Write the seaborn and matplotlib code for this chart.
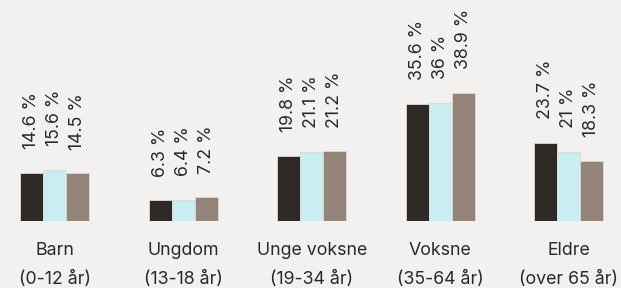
import pandas as pd
import matplotlib
matplotlib.use('agg')
import matplotlib.pyplot as plt
import seaborn as sns

# data
categories = ["Barn\n(0-12 år)", "Ungdom\n(13-18 år)", "Unge voksne\n(19-34 år)",
              "Voksne\n(35-64 år)", "Eldre\n(over 65 år)"]
series = ["Serie 1", "Serie 2", "Serie 3"]
serie_1 = [14.6, 6.3, 19.8, 35.6, 23.7]
serie_2 = [15.6, 6.4, 21.1, 36, 21]
serie_3 = [14.5, 7.2, 21.2, 38.9, 18.3]

colors = ["#2d2926", "#c9edf1", "#958479"]
bg = "#f2f1ef"
text_color = "#2d2926"

rows = []
for name, vals in zip(series, [serie_1, serie_2, serie_3]):
    for cat, v in zip(categories, vals):
        rows.append({"gruppe": cat, "serie": name, "andel": v})
df = pd.DataFrame(rows)

sns.set_style("white")
plt.rcParams['font.family'] = ['Inter', 'DejaVu Sans']

fig = plt.figure(figsize=(6.21, 2.88), dpi=100, facecolor=bg)
ax = fig.add_axes([0, 67 / 288, 1, 221 / 288])
ax.set_facecolor(bg)

sns.barplot(data=df, x="gruppe", y="andel", hue="serie", palette=colors,
            width=0.537, saturation=1, legend=False, ax=ax,
            edgecolor="#ddd9d5", linewidth=0.6)

for cont in ax.containers:
    labels = [f"{v:g} %" for v in cont.datavalues]
    ax.bar_label(cont, labels=labels, rotation=90, padding=17,
                 fontsize=12.8, color=text_color)

ax.set_xlim(-0.424, 4.405)
ax.set_ylim(0, 67.2)
ax.set_xlabel("")
ax.set_ylabel("")
ax.set_yticks([])
ax.tick_params(axis="x", length=0, pad=15, labelsize=12.8, labelcolor=text_color)
for lbl in ax.get_xticklabels():
    lbl.set_linespacing(1.9)
sns.despine(ax=ax, left=True, bottom=True)

fig.savefig("out.png", dpi=100, facecolor=bg)
